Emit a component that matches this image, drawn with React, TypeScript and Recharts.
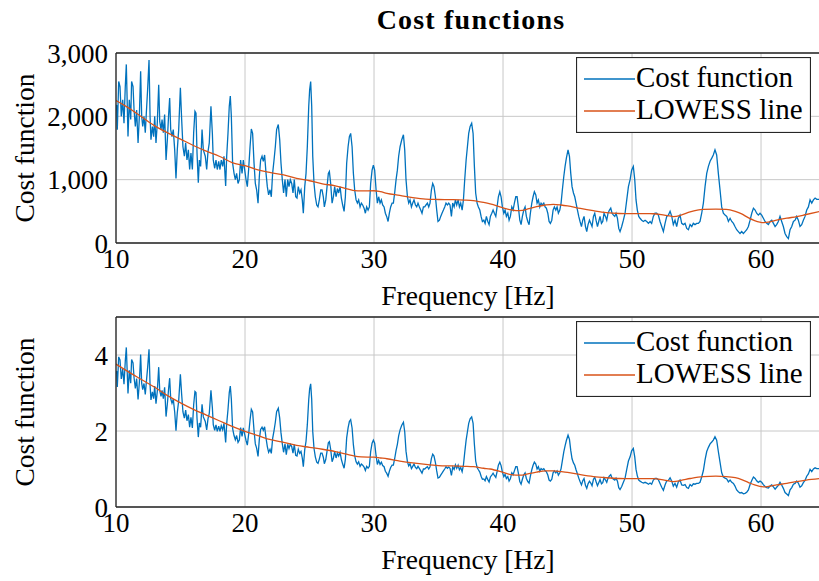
import React from 'react';
import { LineChart, Line, XAxis, YAxis, CartesianGrid, Legend, Label } from 'recharts';

const SERIF = '"Liberation Serif", "Times New Roman", serif';
const BLUE = '#0072BD';
const ORANGE = '#D95319';
const FRAME = '#262626';
const GRID = '#c8c8c8';
const TICK = '#8a8a8a';

const freqTicks = [10, 20, 30, 40, 50, 60];
const freqRange = [10, 64.57];
const topTicks = [0, 1000, 2000, 3000];
const bottomTicks = [0, 2, 4];

// frequency samples [Hz], shared by both cost curves
const freq = [
  10.0, 10.05, 10.1, 10.21, 10.31, 10.41, 10.52, 10.62, 10.72, 10.8,
  10.93, 11.03, 11.14, 11.21, 11.32, 11.4, 11.5, 11.6, 11.71, 11.81,
  11.91, 11.99, 12.07, 12.17, 12.27, 12.35, 12.45, 12.56, 12.64, 12.71,
  12.82, 12.92, 13.0, 13.1, 13.2, 13.31, 13.39, 13.49, 13.57, 13.67,
  13.77, 13.88, 13.98, 14.08, 14.16, 14.24, 14.34, 14.44, 14.55, 14.65,
  14.75, 14.86, 14.99, 15.09, 15.19, 15.3, 15.4, 15.5, 15.61, 15.71,
  15.81, 15.92, 16.02, 16.12, 16.2, 16.28, 16.38, 16.46, 16.56, 16.67,
  16.77, 16.92, 17.03, 17.13, 17.23, 17.36, 17.47, 17.54, 17.65, 17.75,
  17.85, 17.96, 18.06, 18.16, 18.27, 18.37, 18.5, 18.58, 18.68, 18.78,
  18.86, 18.94, 19.04, 19.15, 19.25, 19.35, 19.46, 19.56, 19.66, 19.77,
  19.87, 19.97, 20.08, 20.18, 20.28, 20.39, 20.49, 20.59, 20.7, 20.8,
  20.9, 21.01, 21.11, 21.21, 21.32, 21.42, 21.52, 21.63, 21.73, 21.83,
  21.94, 22.04, 22.14, 22.25, 22.35, 22.45, 22.58, 22.69, 22.79, 22.89,
  22.99, 23.1, 23.2, 23.31, 23.41, 23.51, 23.62, 23.72, 23.82, 23.93,
  24.03, 24.13, 24.24, 24.34, 24.44, 24.52, 24.63, 24.73, 24.83, 24.94,
  25.01, 25.09, 25.17, 25.25, 25.35, 25.45, 25.56, 25.66, 25.76, 25.87,
  25.97, 26.07, 26.15, 26.26, 26.36, 26.46, 26.54, 26.64, 26.75, 26.85,
  26.95, 27.06, 27.16, 27.26, 27.37, 27.47, 27.57, 27.68, 27.78, 27.88,
  27.99, 28.09, 28.19, 28.3, 28.4, 28.5, 28.61, 28.71, 28.81, 28.92,
  29.02, 29.12, 29.23, 29.33, 29.43, 29.54, 29.64, 29.74, 29.85, 29.95,
  30.05, 30.16, 30.26, 30.36, 30.47, 30.57, 30.67, 30.78, 30.88, 30.98,
  31.09, 31.19, 31.29, 31.4, 31.5, 31.6, 31.71, 31.81, 31.91, 32.02,
  32.15, 32.28, 32.38, 32.48, 32.59, 32.69, 32.79, 32.9, 33.0, 33.1,
  33.21, 33.31, 33.41, 33.52, 33.62, 33.72, 33.83, 33.93, 34.03, 34.14,
  34.24, 34.34, 34.45, 34.55, 34.65, 34.76, 34.86, 34.96, 35.07, 35.17,
  35.27, 35.38, 35.48, 35.58, 35.69, 35.79, 35.89, 36.0, 36.1, 36.21,
  36.31, 36.41, 36.52, 36.62, 36.72, 36.83, 36.93, 37.03, 37.14, 37.24,
  37.34, 37.45, 37.57, 37.68, 37.78, 37.88, 37.99, 38.09, 38.2, 38.3,
  38.4, 38.51, 38.61, 38.71, 38.82, 38.92, 39.02, 39.13, 39.23, 39.33,
  39.44, 39.54, 39.64, 39.75, 39.85, 39.95, 40.06, 40.16, 40.26, 40.37,
  40.47, 40.57, 40.68, 40.78, 40.88, 40.99, 41.09, 41.19, 41.3, 41.4,
  41.5, 41.61, 41.71, 41.81, 41.92, 42.02, 42.12, 42.23, 42.33, 42.43,
  42.54, 42.64, 42.74, 42.85, 42.95, 43.05, 43.16, 43.26, 43.36, 43.47,
  43.57, 43.67, 43.78, 43.88, 43.98, 44.09, 44.19, 44.29, 44.4, 44.5,
  44.6, 44.71, 44.81, 44.91, 45.04, 45.15, 45.25, 45.35, 45.46, 45.56,
  45.66, 45.77, 45.87, 45.97, 46.08, 46.18, 46.28, 46.39, 46.49, 46.59,
  46.7, 46.8, 46.9, 47.01, 47.11, 47.21, 47.32, 47.42, 47.52, 47.63,
  47.73, 47.83, 47.94, 48.04, 48.14, 48.25, 48.35, 48.45, 48.56, 48.66,
  48.76, 48.87, 48.97, 49.07, 49.2, 49.33, 49.46, 49.59, 49.72, 49.85,
  49.97, 50.1, 50.21, 50.31, 50.41, 50.52, 50.62, 50.75, 50.88, 51.01,
  51.14, 51.27, 51.4, 51.52, 51.65, 51.78, 51.91, 52.04, 52.17, 52.3,
  52.43, 52.56, 52.69, 52.82, 52.95, 53.08, 53.2, 53.33, 53.46, 53.59,
  53.72, 53.85, 53.98, 54.11, 54.24, 54.37, 54.5, 54.63, 54.75, 54.88,
  55.01, 55.14, 55.27, 55.4, 55.53, 55.66, 55.79, 55.92, 56.05, 56.18,
  56.3, 56.43, 56.56, 56.69, 56.82, 56.95, 57.08, 57.21, 57.34, 57.47,
  57.6, 57.73, 57.86, 57.98, 58.11, 58.24, 58.37, 58.5, 58.63, 58.76,
  58.89, 59.02, 59.15, 59.28, 59.41, 59.54, 59.66, 59.79, 59.92, 60.05,
  60.18, 60.31, 60.44, 60.57, 60.7, 60.83, 60.96, 61.09, 61.21, 61.34,
  61.47, 61.6, 61.73, 61.86, 61.99, 62.12, 62.25, 62.38, 62.51, 62.64,
  62.76, 62.89, 63.02, 63.15, 63.28, 63.41, 63.54, 63.67, 63.8, 63.93,
  64.06, 64.19, 64.32, 64.57,
];

// upper panel: cost function
const costTop = [
  2100, 2180, 1790, 2550, 2470, 2000, 2260, 1890, 2470, 2820,
  1680, 2260, 1950, 2550, 2470, 2100, 1840, 2100, 1580, 2000,
  2710, 2000, 1840, 2000, 1740, 2050, 2420, 2890, 2000, 1630,
  1840, 1680, 2000, 1580, 1890, 2500, 1920, 1790, 1950, 1740,
  2030, 1310, 1630, 2030, 2290, 1790, 1680, 1790, 1470, 1020,
  1470, 1790, 2450, 1950, 1520, 1370, 1580, 1310, 1470, 1160,
  1420, 1160, 1740, 2080, 2050, 1420, 950, 1310, 1210, 1790,
  1470, 1370, 1160, 1440, 1580, 2160, 1730, 1310, 1180, 1310,
  1160, 1290, 1160, 1310, 1210, 1370, 900, 1370, 1730, 2160,
  2320, 2000, 1260, 1100, 1000, 1100, 940, 1000, 1310, 1100,
  1310, 1160, 1000, 890, 1160, 1520, 1800, 1730, 1260, 940,
  840, 630, 1050, 1310, 1370, 1290, 1390, 1100, 890, 760,
  840, 730, 1100, 1310, 1520, 1790, 1870, 1630, 1260, 1000,
  790, 1000, 730, 1000, 890, 1000, 940, 790, 1000, 730,
  710, 890, 790, 840, 680, 470, 890, 1100, 1520, 2160,
  2420, 2550, 2160, 1370, 940, 730, 600, 570, 680, 840,
  840, 730, 570, 680, 890, 1100, 1130, 940, 630, 730,
  890, 730, 860, 790, 890, 710, 600, 500, 730, 1260,
  1520, 1680, 1730, 1520, 1100, 840, 680, 630, 680, 570,
  630, 600, 550, 470, 570, 520, 570, 940, 1150, 1230,
  1150, 840, 630, 730, 630, 680, 600, 570, 470, 420,
  340, 470, 570, 630, 630, 790, 1000, 1150, 1370, 1520,
  1630, 1710, 1470, 1000, 730, 630, 680, 570, 630, 680,
  600, 570, 630, 570, 520, 470, 570, 570, 600, 630,
  570, 630, 840, 940, 890, 730, 520, 340, 360, 420,
  470, 520, 570, 630, 600, 630, 600, 420, 630, 570,
  680, 600, 680, 570, 630, 520, 680, 1000, 1310, 1520,
  1730, 1840, 1890, 1730, 1210, 790, 630, 570, 520, 420,
  340, 360, 310, 420, 340, 290, 420, 470, 520, 470,
  420, 570, 730, 810, 730, 570, 470, 520, 420, 470,
  360, 420, 570, 520, 630, 730, 730, 570, 360, 290,
  420, 520, 570, 420, 340, 290, 470, 630, 730, 810,
  760, 630, 680, 570, 630, 600, 630, 570, 550, 470,
  340, 310, 360, 520, 570, 520, 570, 470, 520, 630,
  840, 1050, 1210, 1340, 1470, 1370, 1100, 890, 790, 730,
  630, 520, 420, 340, 260, 360, 420, 260, 180, 290,
  360, 310, 260, 420, 470, 360, 260, 340, 420, 310,
  340, 470, 420, 360, 470, 520, 550, 470, 440, 420,
  470, 390, 230, 180, 260, 360, 470, 680, 890, 1000,
  1150, 1210, 1000, 680, 520, 420, 390, 360, 340, 360,
  340, 310, 340, 310, 420, 470, 470, 440, 340, 260,
  180, 310, 420, 440, 500, 420, 290, 360, 260, 390,
  440, 310, 290, 310, 230, 210, 290, 260, 310, 290,
  310, 310, 340, 470, 630, 890, 1100, 1210, 1290, 1340,
  1390, 1470, 1390, 1100, 840, 570, 470, 440, 420, 340,
  390, 340, 310, 260, 210, 180, 150, 180, 150, 180,
  210, 260, 360, 470, 550, 520, 470, 440, 470, 440,
  390, 340, 310, 290, 340, 360, 310, 260, 290, 340,
  420, 340, 260, 150, 100, 70, 210, 260, 340, 360,
  420, 360, 260, 290, 360, 420, 520, 570, 680, 630,
  680, 710, 690, 690,
];

// lower panel: cost function
const costBottom = [
  3.5, 3.58, 3.16, 3.95, 3.87, 3.37, 3.63, 3.23, 3.84, 4.2,
  2.99, 3.6, 3.26, 3.88, 3.79, 3.4, 3.12, 3.38, 2.83, 3.27,
  4.01, 3.26, 3.09, 3.25, 2.96, 3.28, 3.66, 4.15, 3.21, 2.82,
  3.03, 2.85, 3.18, 2.72, 3.04, 3.68, 3.06, 2.91, 3.07, 2.85,
  3.15, 2.38, 2.71, 3.12, 3.39, 2.85, 2.73, 2.84, 2.5, 2.01,
  2.48, 2.8, 3.49, 2.96, 2.5, 2.34, 2.55, 2.27, 2.43, 2.1,
  2.36, 2.08, 2.69, 3.04, 3.01, 2.33, 1.84, 2.21, 2.1, 2.7,
  2.37, 2.25, 2.03, 2.32, 2.46, 3.07, 2.61, 2.17, 2.02, 2.16,
  1.99, 2.13, 1.99, 2.14, 2.03, 2.2, 1.7, 2.19, 2.56, 3.01,
  3.18, 2.84, 2.06, 1.88, 1.77, 1.88, 1.7, 1.76, 2.09, 1.86,
  2.08, 1.92, 1.75, 1.63, 1.91, 2.29, 2.57, 2.5, 2.01, 1.66,
  1.55, 1.33, 1.78, 2.04, 2.1, 2.02, 2.11, 1.81, 1.59, 1.44,
  1.52, 1.41, 1.8, 2.01, 2.23, 2.51, 2.6, 2.34, 1.95, 1.67,
  1.44, 1.66, 1.38, 1.65, 1.54, 1.65, 1.59, 1.42, 1.64, 1.36,
  1.34, 1.52, 1.41, 1.46, 1.29, 1.06, 1.51, 1.73, 2.16, 2.83,
  3.11, 3.24, 2.83, 1.99, 1.54, 1.32, 1.18, 1.15, 1.26, 1.42,
  1.42, 1.31, 1.14, 1.25, 1.47, 1.69, 1.72, 1.52, 1.19, 1.29,
  1.46, 1.29, 1.42, 1.34, 1.44, 1.25, 1.13, 1.02, 1.26, 1.82,
  2.08, 2.25, 2.3, 2.08, 1.64, 1.35, 1.19, 1.13, 1.19, 1.07,
  1.13, 1.1, 1.05, 0.96, 1.07, 1.02, 1.07, 1.46, 1.68, 1.76,
  1.68, 1.35, 1.12, 1.23, 1.12, 1.18, 1.09, 1.06, 0.94, 0.89,
  0.81, 0.94, 1.04, 1.1, 1.1, 1.27, 1.49, 1.65, 1.87, 2.03,
  2.15, 2.23, 1.98, 1.47, 1.19, 1.08, 1.14, 1.01, 1.07, 1.13,
  1.04, 1.01, 1.07, 1.01, 0.95, 0.89, 1.0, 1.0, 1.03, 1.06,
  1.0, 1.06, 1.28, 1.39, 1.34, 1.17, 0.95, 0.76, 0.78, 0.84,
  0.89, 0.95, 1.0, 1.06, 1.02, 1.05, 1.02, 0.83, 1.05, 0.99,
  1.11, 1.02, 1.1, 0.98, 1.04, 0.93, 1.1, 1.43, 1.76, 1.98,
  2.2, 2.32, 2.37, 2.2, 1.65, 1.21, 1.04, 0.98, 0.92, 0.81,
  0.73, 0.74, 0.69, 0.8, 0.72, 0.66, 0.79, 0.84, 0.89, 0.83,
  0.78, 0.93, 1.1, 1.18, 1.09, 0.92, 0.8, 0.86, 0.75, 0.8,
  0.68, 0.74, 0.9, 0.85, 0.95, 1.06, 1.06, 0.89, 0.67, 0.6,
  0.73, 0.85, 0.9, 0.75, 0.67, 0.63, 0.81, 0.98, 1.1, 1.18,
  1.13, 1.0, 1.06, 0.94, 1.01, 0.98, 1.01, 0.95, 0.93, 0.84,
  0.71, 0.68, 0.73, 0.9, 0.95, 0.9, 0.95, 0.84, 0.9, 1.01,
  1.22, 1.45, 1.61, 1.75, 1.89, 1.78, 1.49, 1.27, 1.16, 1.1,
  0.98, 0.87, 0.76, 0.67, 0.58, 0.69, 0.75, 0.57, 0.49, 0.61,
  0.68, 0.63, 0.56, 0.73, 0.78, 0.67, 0.56, 0.64, 0.72, 0.61,
  0.64, 0.77, 0.71, 0.65, 0.76, 0.82, 0.85, 0.76, 0.73, 0.71,
  0.76, 0.68, 0.51, 0.46, 0.54, 0.65, 0.76, 0.99, 1.21, 1.32,
  1.48, 1.54, 1.32, 0.99, 0.82, 0.71, 0.68, 0.65, 0.63, 0.65,
  0.63, 0.6, 0.63, 0.6, 0.71, 0.75, 0.75, 0.72, 0.62, 0.52,
  0.44, 0.58, 0.69, 0.7, 0.77, 0.68, 0.55, 0.62, 0.52, 0.66,
  0.71, 0.58, 0.57, 0.59, 0.51, 0.49, 0.59, 0.55, 0.61, 0.6,
  0.62, 0.62, 0.65, 0.79, 0.96, 1.24, 1.46, 1.57, 1.66, 1.71,
  1.76, 1.85, 1.76, 1.46, 1.18, 0.9, 0.79, 0.76, 0.74, 0.66,
  0.71, 0.65, 0.62, 0.55, 0.45, 0.4, 0.37, 0.38, 0.35, 0.36,
  0.39, 0.45, 0.59, 0.7, 0.79, 0.75, 0.69, 0.65, 0.68, 0.65,
  0.59, 0.54, 0.51, 0.5, 0.55, 0.58, 0.53, 0.47, 0.52, 0.57,
  0.65, 0.58, 0.49, 0.38, 0.34, 0.3, 0.45, 0.51, 0.6, 0.62,
  0.68, 0.63, 0.52, 0.56, 0.64, 0.7, 0.81, 0.87, 0.99, 0.93,
  1.0, 1.03, 1.01, 1.01,
];

// LOWESS fits
const lowessFreq = [
  10, 11, 12, 13, 14, 15, 16, 17, 18, 19,
  20, 21, 22, 23, 24, 25, 26, 27, 28, 28.5,
  29, 30, 30.5, 31, 32, 33, 34, 35, 36, 37,
  37.7, 38.5, 39, 40, 40.5, 41, 41.5, 42, 42.6, 43.3,
  43.9, 44.5, 45, 46, 47, 48, 49, 50, 51, 51.65,
  52.5, 53.2, 53.8, 54.5, 55.5, 56.5, 57.3, 58, 58.5, 59,
  59.5, 60.2, 60.7, 61.2, 62, 62.76, 63.5, 64.57,
];
const lowessTop = [
  2250, 2130, 1990, 1850, 1740, 1640, 1540, 1450, 1370, 1270,
  1220, 1155, 1112, 1075, 1020, 983, 935, 903, 850, 827,
  822, 825, 810, 785, 752, 715, 692, 687, 684, 678,
  669, 640, 617, 555, 527, 512, 515, 543, 574, 600,
  611, 600, 585, 545, 510, 480, 466, 463, 463, 462,
  440, 418, 440, 490, 530, 535, 532, 500, 460, 400,
  355, 322, 335, 360, 392, 416, 450, 498,
];
const lowessBottom = [
  3.76, 3.55, 3.35, 3.15, 2.93, 2.74, 2.57, 2.42, 2.27, 2.12,
  1.99, 1.88, 1.77, 1.7, 1.62, 1.57, 1.52, 1.46, 1.38, 1.34,
  1.32, 1.31, 1.29, 1.27, 1.21, 1.16, 1.12, 1.09, 1.08, 1.07,
  1.06, 1.02, 1.0, 0.91, 0.86, 0.84, 0.84, 0.88, 0.92, 0.95,
  0.95, 0.93, 0.91, 0.85, 0.8, 0.77, 0.75, 0.745, 0.745, 0.745,
  0.71, 0.67, 0.7, 0.75, 0.8, 0.81, 0.8, 0.77, 0.72, 0.65,
  0.58, 0.53, 0.55, 0.58, 0.62, 0.67, 0.71, 0.75,
];

const rows = (xs: number[], ys: number[]) => xs.map((f, i) => ({ f, v: ys[i] }));

const tickText = { fontFamily: SERIF, fontSize: 27, fill: '#000' };
const labelText = { fontFamily: SERIF, fontSize: 27.5, fill: '#000' };
const legendText = { fontFamily: SERIF, fontSize: 29, fill: '#000' };

function LegendBox() {
  return (
    <svg width={235} height={76} style={{ display: 'block' }}>
      <rect x={0.5} y={0.5} width={234} height={75} fill="#fff" stroke={FRAME} strokeWidth={1.2} />
      <line x1={8} x2={59} y1={22} y2={22} stroke={BLUE} strokeWidth={1.3} />
      <text x={60} y={30} style={legendText}>Cost function</text>
      <line x1={8} x2={59} y1={54} y2={54} stroke={ORANGE} strokeWidth={1.3} />
      <text x={60} y={62} style={legendText}>LOWESS line</text>
    </svg>
  );
}

function Panel({ top, cost, lowess, yDomain, yTicks, fmt }: any) {
  return (
    <div style={{ position: 'absolute', left: 0, top, width: 819, height: 316, overflow: 'hidden' }}>
      <LineChart width={820} height={316} margin={{ top: 53, right: 0, bottom: 7, left: 0 }}>
        <CartesianGrid stroke={GRID} strokeWidth={1} />
        <XAxis
          type="number" dataKey="f" domain={freqRange} ticks={freqTicks} interval={0}
          allowDataOverflow height={66} tickLine={false} tickSize={0} tickMargin={6}
          axisLine={{ stroke: FRAME, strokeWidth: 1.3 }} tick={tickText}
        >
          <Label
            content={({ viewBox }: any) => (
              <text x={viewBox.x + viewBox.width / 2} y={viewBox.y + 62} textAnchor="middle" style={labelText}>
                Frequency [Hz]
              </text>
            )}
          />
        </XAxis>
        <XAxis xAxisId="xb" type="number" domain={freqRange} ticks={freqTicks} interval={0} allowDataOverflow
          orientation="bottom" mirror tick={false} axisLine={false} tickSize={10} tickLine={{ stroke: TICK }} />
        <XAxis xAxisId="xt" type="number" domain={freqRange} ticks={freqTicks} interval={0} allowDataOverflow
          orientation="top" mirror tick={false} tickSize={10} tickLine={{ stroke: TICK }}
          axisLine={{ stroke: FRAME, strokeWidth: 1.3 }} />
        <YAxis
          type="number" domain={yDomain} ticks={yTicks} interval={0} allowDataOverflow width={116}
          tickLine={false} tickSize={0} tickMargin={8} tickFormatter={fmt}
          axisLine={{ stroke: FRAME, strokeWidth: 1.3 }} tick={tickText}
        >
          <Label
            content={({ viewBox }: any) => {
              const cy = viewBox.y + viewBox.height / 2;
              return (
                <text x={34} y={cy} transform={`rotate(-90 34 ${cy})`} textAnchor="middle" style={labelText}>
                  Cost function
                </text>
              );
            }}
          />
        </YAxis>
        <YAxis yAxisId="yl" type="number" domain={yDomain} ticks={yTicks} interval={0} allowDataOverflow
          orientation="left" mirror tick={false} axisLine={false} tickSize={10} tickLine={{ stroke: TICK }} />
        <YAxis yAxisId="yr" type="number" domain={yDomain} ticks={yTicks} interval={0} allowDataOverflow
          orientation="right" mirror tick={false} tickSize={10} tickLine={{ stroke: TICK }}
          axisLine={{ stroke: FRAME, strokeWidth: 1.3 }} />
        <Line data={cost} dataKey="v" type="linear" stroke={BLUE} strokeWidth={1.3} dot={false} isAnimationActive={false} />
        <Line data={lowess} dataKey="v" type="monotone" stroke={ORANGE} strokeWidth={1.3} dot={false} isAnimationActive={false} />
        <Legend
          layout="horizontal" verticalAlign="middle" align="center"
          wrapperStyle={{ left: 576, top: 57, width: 235, height: 76 }}
          content={() => <LegendBox />}
        />
      </LineChart>
    </div>
  );
}

export default function App() {
  const costA = rows(freq, costTop);
  const costB = rows(freq, costBottom);
  const lowA = rows(lowessFreq, lowessTop);
  const lowB = rows(lowessFreq, lowessBottom);
  return (
    <div style={{ position: 'absolute', left: 0, top: 0, width: 819, height: 581, background: '#fff', overflow: 'hidden' }}>
      <svg width={819} height={40} style={{ position: 'absolute', left: 0, top: 0 }}>
        <text x={471} y={29} textAnchor="middle" style={{ fontFamily: SERIF, fontSize: 28, fontWeight: 'bold', letterSpacing: 1.2 }}>
          Cost functions
        </text>
      </svg>
      <Panel top={0} cost={costA} lowess={lowA} yDomain={[0, 3000]} yTicks={topTicks}
        fmt={(v: number) => v.toLocaleString('en-US')} />
      <Panel top={264} cost={costB} lowess={lowB} yDomain={[0, 5]} yTicks={bottomTicks}
        fmt={(v: number) => String(v)} />
    </div>
  );
}
